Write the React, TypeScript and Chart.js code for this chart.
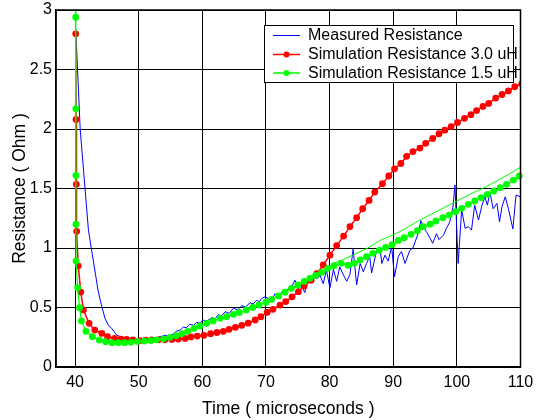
import React, { useEffect, useRef } from "react";
import { Chart, registerables } from "chart.js";

Chart.register(...registerables);

// ---------- data ----------
const xTickValues = [40, 50, 60, 70, 80, 90, 100, 110];
const yTickValues = [0, 0.5, 1, 1.5, 2, 2.5, 3];

const measuredLabel = "Measured Resistance";
const measuredTime = [
  40.1, 40.8, 42.1, 42.6, 43.1, 43.6, 44.2, 44.7, 45.2, 45.75, 46.5, 47.3, 48.1, 49.0, 49.7, 50.5, 51.3, 52.0,
  52.6, 53.4, 54.1, 54.7, 55.4, 55.9, 56.5, 57.0, 57.5, 58.05, 58.6, 59.1, 59.6, 60.1, 60.7, 61.5, 62.0, 62.5,
  63.0, 63.6, 64.2, 64.9, 65.5, 66.2, 66.8, 67.5, 68.0, 68.5, 69.0, 69.3, 69.85, 70.4, 70.9, 71.4, 71.9, 72.5,
  73.25, 74.0, 74.55, 75.1, 75.6, 76.1, 76.6, 77.4, 78.0, 78.5, 79.0, 79.5, 80.05, 80.6, 81.1, 81.6, 82.2, 82.7,
  83.2, 83.7, 84.25, 84.8, 85.3, 85.8, 86.3, 86.6, 87.4, 87.9, 88.2, 88.7, 89.2, 89.75, 90.2, 90.8, 91.3, 91.85,
  92.6, 93.1, 93.9, 94.35, 94.7, 95.2, 95.7, 96.2, 96.8, 97.2, 97.9, 98.4, 98.9, 99.4, 99.7, 100.2, 100.75,
  101.3, 101.8, 102.3, 102.8, 103.4, 103.9, 104.4, 104.8, 105.2, 105.7, 106.3, 106.7, 107.1, 107.6, 108.1,
  108.8, 109.3, 110.0,
];
const measuredOhm = [
  2.85, 2.0, 1.15, 0.98, 0.815, 0.647, 0.507, 0.409, 0.353, 0.325, 0.27, 0.25, 0.24, 0.235, 0.24, 0.235, 0.232, 0.238,
  0.242, 0.255, 0.265, 0.26, 0.275, 0.3, 0.31, 0.335, 0.33, 0.36, 0.35, 0.375, 0.37, 0.395, 0.385, 0.415, 0.405, 0.44,
  0.43, 0.465, 0.45, 0.495, 0.48, 0.515, 0.505, 0.54, 0.53, 0.56, 0.55, 0.575, 0.59, 0.575, 0.56, 0.615, 0.6, 0.63,
  0.645, 0.67, 0.73, 0.66, 0.68, 0.625, 0.73, 0.76, 0.74, 0.77, 0.7, 0.815, 0.665, 0.82, 0.72, 0.84, 0.77, 0.72,
  0.78, 0.99, 0.69, 0.87, 0.8, 0.87, 0.93, 0.79, 0.98, 1.01, 0.87, 0.94, 0.89, 1.01, 0.76, 0.93, 0.97, 0.87,
  0.98, 1.0, 1.12, 1.23, 1.18, 1.14, 1.09, 1.04, 1.12, 1.07, 1.11, 1.17, 1.22, 1.35, 1.53, 0.87, 1.32,
  1.165, 1.18, 1.15, 1.36, 1.235, 1.35, 1.43, 1.36, 1.47, 1.33, 1.375, 1.22, 1.35, 1.43, 1.33,
  1.16, 1.445, 1.43,
];

const sim30Label = "Simulation Resistance 3.0 uH";
const sim30Time = [
  40.1, 40.15, 40.2, 40.25, 40.5, 40.9, 41.3, 42.2, 43.1, 44.2, 45.1, 46.2, 47.2, 48.1, 49.1, 50.2, 51.1, 52.0,
  53.1, 54.1, 55.2, 56.2, 57.3, 58.2, 59.2, 60.25, 61.3, 62.3, 63.3, 64.2, 65.2, 66.2, 67.2, 68.3, 69.2, 70.2,
  71.1, 72.2, 73.1, 74.1, 75.1, 76.0, 77.1, 78.0, 79.0, 80.05, 81.1, 82.2, 83.2, 84.25, 85.2, 86.2, 87.1, 88.3,
  89.3, 90.2, 91.2, 92.1, 93.1, 94.2, 95.1, 96.2, 97.2, 98.1, 99.1, 100.1, 101.2, 102.2, 103.1, 104.1, 105.0,
  106.1, 107.1, 108.1, 109.1, 110.2,
];
const sim30Ohm = [
  2.8, 2.08, 1.535, 1.14, 0.85, 0.63, 0.48, 0.367, 0.31, 0.283, 0.255, 0.241, 0.233, 0.232, 0.227, 0.222, 0.226, 0.227,
  0.228, 0.229, 0.232, 0.235, 0.24, 0.253, 0.26, 0.266, 0.28, 0.29, 0.3, 0.317, 0.333, 0.35, 0.368, 0.395, 0.423, 0.46,
  0.485, 0.52, 0.55, 0.59, 0.633, 0.68, 0.73, 0.785, 0.857, 0.94, 1.02, 1.1, 1.18, 1.255, 1.33, 1.4, 1.47, 1.54,
  1.605, 1.665, 1.71, 1.77, 1.81, 1.84, 1.88, 1.92, 1.96, 1.99, 2.02, 2.055, 2.09, 2.12, 2.155, 2.19, 2.215,
  2.26, 2.29, 2.32, 2.355, 2.38,
];

const sim15Label = "Simulation Resistance 1.5 uH";
const sim15Time = [
  40.05, 40.1, 40.12, 40.13, 40.14, 40.15, 40.4, 40.7, 41.0, 41.7, 42.7, 43.8, 44.8, 45.8, 46.8, 47.8, 48.8, 49.8,
  50.9, 51.9, 52.8, 53.9, 54.9, 55.9, 56.8, 57.7, 58.7, 59.6, 60.7, 61.7, 62.8, 63.8, 64.9, 65.8, 66.9, 67.9,
  68.9, 70.0, 70.9, 72.0, 73.0, 74.0, 75.0, 76.0, 76.9, 77.8, 78.75, 79.7, 80.7, 81.8, 82.9, 83.9, 84.8, 85.8,
  86.8, 87.8, 88.8, 89.8, 90.8, 91.7, 92.8, 93.8, 94.7, 95.8, 96.7, 97.8, 98.8, 99.8, 100.75, 101.8, 102.8,
  103.8, 104.8, 105.8, 106.8, 107.8, 108.9, 109.8,
];
const sim15Ohm = [
  3.5, 2.94, 2.17, 1.61, 1.2, 0.89, 0.667, 0.498, 0.387, 0.3, 0.255, 0.227, 0.213, 0.204, 0.204, 0.204, 0.207, 0.215,
  0.218, 0.222, 0.228, 0.235, 0.249, 0.263, 0.28, 0.3, 0.325, 0.345, 0.367, 0.387, 0.409, 0.423, 0.443, 0.458, 0.479, 0.5,
  0.521, 0.544, 0.569, 0.597, 0.628, 0.661, 0.69, 0.72, 0.745, 0.77, 0.796, 0.829, 0.851, 0.871, 0.855, 0.871, 0.899, 0.927,
  0.955, 0.98, 1.005, 1.028, 1.064, 1.087, 1.115, 1.145, 1.179, 1.2, 1.227, 1.255, 1.277, 1.305, 1.333, 1.367, 1.395,
  1.423, 1.451, 1.479, 1.507, 1.535, 1.571, 1.605,
];

// thin continuous 1.5 uH curve (diverges from markers after ~80)
const sim15CurveTime = [79.7, 80.6, 82.0, 84.2, 86.0, 88.0, 90.0, 92.0, 94.0, 96.0, 98.0, 100.0, 102.0, 104.0, 106.0, 108.0, 110.0];
const sim15CurveOhm = [0.829, 0.871, 0.9, 0.955, 1.0, 1.065, 1.11, 1.165, 1.23, 1.285, 1.34, 1.395, 1.45, 1.5, 1.555, 1.615, 1.678];

const pairs = (xs: number[], ys: number[]) => xs.map((x, i) => ({ x, y: ys[i] }));

const BLUE = "#0000ff";
const RED = "#ff0000";
const GREEN = "#00ff00";
const FONT = "'Liberation Sans', Arial, Helvetica, sans-serif";

const framePlugin = {
  id: "frame",
  afterDatasetsDraw(chart: any) {
    const { ctx, chartArea } = chart;
    ctx.save();
    ctx.strokeStyle = "#000";
    ctx.lineWidth = 1.5;
    ctx.strokeRect(chartArea.left, chartArea.top, chartArea.right - chartArea.left, chartArea.bottom - chartArea.top);
    ctx.restore();
  },
};

const legendPlugin = {
  id: "boxLegend",
  afterDraw(chart: any) {
    const { ctx, chartArea } = chart;
    const items = [
      { label: measuredLabel, color: BLUE, dot: false, width: 1 },
      { label: sim30Label, color: RED, dot: true, width: 1.5 },
      { label: sim15Label, color: GREEN, dot: true, width: 1.5 },
    ];
    const bx = chartArea.right - 256.5;
    const by = chartArea.top + 15;
    const bw = 249;
    const bh = 57;
    ctx.save();
    ctx.fillStyle = "#fff";
    ctx.fillRect(bx, by, bw, bh);
    ctx.strokeStyle = "#000";
    ctx.lineWidth = 1;
    ctx.strokeRect(bx + 0.5, by + 0.5, bw, bh);
    const rows = [by + 10.5, by + 29.5, by + 48];
    items.forEach((it, i) => {
      const y = rows[i];
      ctx.strokeStyle = it.color;
      ctx.lineWidth = it.width;
      ctx.beginPath();
      ctx.moveTo(bx + 9, y);
      ctx.lineTo(bx + 36, y);
      ctx.stroke();
      if (it.dot) {
        ctx.fillStyle = it.color;
        ctx.beginPath();
        ctx.arc(bx + 22.5, y, 3, 0, Math.PI * 2);
        ctx.fill();
      }
      ctx.fillStyle = "#000";
      ctx.font = `16px ${FONT}`;
      ctx.textBaseline = "middle";
      ctx.textAlign = "left";
      ctx.fillText(it.label, bx + 44, y + 0.5);
    });
    ctx.restore();
  },
};

export default function App() {
  const ref = useRef<HTMLCanvasElement | null>(null);

  useEffect(() => {
    if (!ref.current) return;
    const chart = new Chart(ref.current, {
      type: "line",
      data: {
        datasets: [
          {
            label: "sim15curve",
            data: pairs(sim15CurveTime, sim15CurveOhm),
            borderColor: GREEN,
            borderWidth: 1,
            pointRadius: 0,
            fill: false,
            tension: 0,
          },
          {
            label: sim15Label,
            data: pairs(sim15Time, sim15Ohm),
            borderColor: GREEN,
            backgroundColor: GREEN,
            borderWidth: 1.2,
            pointRadius: (c: any) => (c.raw && c.raw.y > 3 ? 0 : 3.4),
            pointBorderWidth: 0,
            pointBackgroundColor: GREEN,
            fill: false,
            tension: 0,
            clip: { left: 6, top: 0, right: 6, bottom: 6 } as any,
          },
          {
            label: sim30Label,
            data: pairs(sim30Time, sim30Ohm),
            borderColor: RED,
            backgroundColor: RED,
            borderWidth: 1.5,
            pointRadius: 3.4,
            pointBorderWidth: 0,
            pointBackgroundColor: RED,
            fill: false,
            tension: 0,
          },
          {
            label: measuredLabel,
            data: pairs(measuredTime, measuredOhm),
            borderColor: BLUE,
            borderWidth: 1,
            pointRadius: 0,
            fill: false,
            tension: 0,
          },
        ],
      },
      options: {
        responsive: false,
        animation: false,
        devicePixelRatio: 1,
        layout: { padding: { top: 10, right: 16.5, left: 0, bottom: 0 } },
        plugins: { legend: { display: false }, tooltip: { enabled: false } },
        scales: {
          x: {
            type: "linear",
            min: 37,
            max: 110,
            afterBuildTicks: (s: any) => {
              s.ticks = xTickValues.map((v) => ({ value: v }));
            },
            afterFit: (s: any) => {
              s.height = 53;
              s.paddingLeft = 0;
              s.paddingRight = 0;
            },
            grid: { color: "#000", lineWidth: 1, drawTicks: false },
            border: { color: "#000", width: 1.5 },
            ticks: {
              color: "#000",
              padding: 6,
              font: { family: FONT, size: 16 },
              callback: (v: any) => String(v),
            },
            title: {
              display: true,
              text: "Time ( microseconds )",
              color: "#000",
              font: { family: FONT, size: 17.5 },
              padding: { top: 0, bottom: 0 },
            },
          },
          y: {
            type: "linear",
            min: 0,
            max: 3,
            afterBuildTicks: (s: any) => {
              s.ticks = yTickValues.map((v) => ({ value: v }));
            },
            afterFit: (s: any) => {
              s.width = 56;
              s.paddingTop = 0;
              s.paddingBottom = 0;
            },
            grid: { color: "#000", lineWidth: 1, drawTicks: false },
            border: { color: "#000", width: 1.5 },
            ticks: {
              color: "#000",
              padding: 4,
              font: { family: FONT, size: 16 },
              callback: (v: any) => String(v),
            },
            title: {
              display: true,
              text: "Resistance ( Ohm )",
              color: "#000",
              font: { family: FONT, size: 17.5 },
              padding: { top: 9.5, bottom: 0 },
            },
          },
        },
      },
      plugins: [framePlugin, legendPlugin],
    });
    return () => chart.destroy();
  }, []);

  return (
    <div style={{ position: "fixed", left: 0, top: 0, width: 537, height: 420, background: "#fff" }}>
      <canvas ref={ref} width={537} height={420} style={{ display: "block" }} />
    </div>
  );
}
